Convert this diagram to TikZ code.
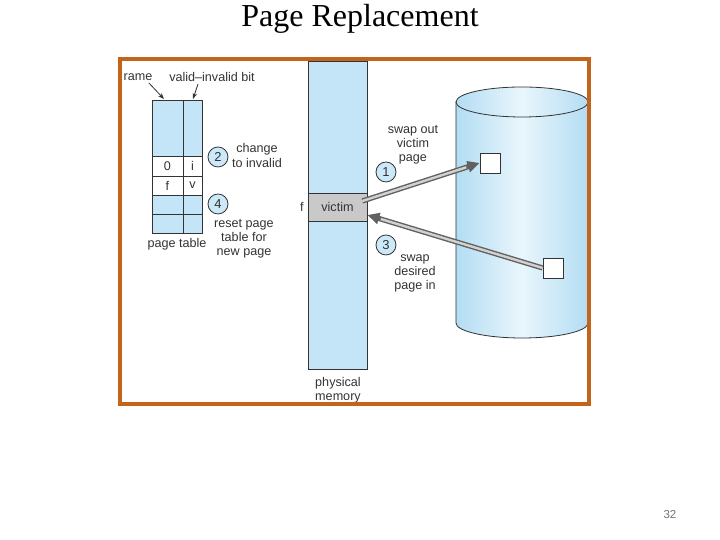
\documentclass[tikz,border=0pt]{standalone}
\usepackage{fontspec}
\setmainfont{Liberation Serif}
\newfontfamily\labelfont{Liberation Sans}
\usepackage{xcolor}
\usetikzlibrary{arrows.meta}
\definecolor{framebrown}{HTML}{C2651A}
\definecolor{membluefill}{HTML}{C3E5F7}
\definecolor{circblue}{HTML}{CBE9F8}
\definecolor{diskblue}{HTML}{B3DDF3}
\definecolor{disklight}{HTML}{E9F6FC}
\definecolor{inkgray}{HTML}{333333}
\definecolor{victimgray}{HTML}{C9C9C9}

\begin{document}
\begin{tikzpicture}[x=0.5pt, y=0.5pt,
    lbl/.style={font=\labelfont\fontsize{6.3}{7.1}\selectfont, text=inkgray, align=center, inner sep=0pt},
    stepnum/.style={circle, draw=inkgray, fill=circblue, minimum size=10pt, inner sep=0pt,
      font=\labelfont\fontsize{6.5}{7}\selectfont, text=inkgray},
    diskpage/.style={draw=inkgray, fill=white, minimum size=10pt, inner sep=0pt},
    swapline/.style={line width=2.6pt, draw=black!62, -{Triangle[length=6pt,width=5.5pt]}},
    swapcore/.style={line width=1.2pt, draw=black!18}]
  \useasboundingbox (0,0) rectangle (720,540);

  % title and slide number
  \node[font=\fontsize{16}{18}\selectfont] (title) at (360,521) {Page Replacement};
  \node[font=\labelfont\fontsize{5.8}{6}\selectfont, text=black!55] (slideno) at (670,25) {32};

  % page table
  \draw[inkgray, fill=membluefill] (152,307) rectangle (202,440);
  \draw[inkgray, fill=white] (152,345) rectangle (202,384);
  \draw[inkgray] (152,364) -- (202,364);
  \draw[inkgray] (152,326) -- (202,326);
  \draw[inkgray] (183,307) -- (183,440);
  \node[lbl] (fr0) at (167.5,374) {0};
  \node[lbl] (vb0) at (192.5,374) {i};
  \node[lbl] (fr1) at (167.5,354.5) {f};
  \node[lbl] (vb1) at (192.5,354.5) {v};
  \node[lbl] (ptab) at (177,296) {page table};
  \node[lbl] (framelbl) at (138,463) {rame};
  \node[lbl] (bitlbl) at (212,463) {valid–invalid bit};
  \coordinate (framecol) at (164,441);
  \coordinate (bitcol) at (193,441);
  \draw[inkgray, -{Stealth[length=3pt]}] ([xshift=-2pt,yshift=-1pt]framelbl.south east) -- (framecol);
  \draw[inkgray, -{Stealth[length=3pt]}] ([xshift=-7pt,yshift=-1pt]bitlbl.south) -- (bitcol);

  \node[stepnum] (s2) at (218,383) {2};
  \node[lbl] (chg) at (257,384.5) {change\\to invalid};
  \node[stepnum] (s4) at (218,336) {4};
  \node[lbl] (rst) at (244,301) {reset page\\table for\\new page};

  % physical memory
  \draw[inkgray, fill=membluefill] (308,171) rectangle (367,479);
  \node[draw=inkgray, fill=victimgray, minimum width=29.5pt, minimum height=14pt,
    inner sep=0pt, font=\labelfont\fontsize{6.3}{7}\selectfont, text=inkgray]
    (victim) at (337.5,333) {victim};
  \node[lbl] (fmark) at (302,333) {f};
  \node[lbl] (physmem) at (338,150) {physical\\memory};

  % backing store
  \shade[left color=diskblue, right color=diskblue, middle color=disklight, draw=inkgray]
    (456,438) -- (456,217) arc[start angle=180, end angle=360, x radius=66, y radius=15]
    -- (588,438) -- cycle;
  \shade[left color=diskblue, right color=diskblue, middle color=disklight, draw=inkgray]
    (522,438) ellipse[x radius=66, y radius=15];
  \node[diskpage] (out) at (490,377) {};
  \node[diskpage] (in) at (553,272) {};

  % swapping
  \coordinate (vout) at ([xshift=-2.5pt,yshift=3pt]victim.east);
  \coordinate (vin) at ([yshift=-4pt]victim.east);
  \draw[swapline] (vout) -- (out.west);
  \draw[swapcore, shorten >=7pt] (vout) -- (out.west);
  \draw[swapline] (in.west) -- (vin);
  \draw[swapcore, shorten >=7pt] (in.west) -- (vin);
  \node[stepnum] (s1) at (386,368) {1};
  \node[lbl] (outlbl) at (413,395) {swap out\\victim\\page};
  \node[stepnum] (s3) at (386,295) {3};
  \node[lbl] (inlbl) at (415,266.5) {swap\\desired\\page in};

  % frame
  \draw[framebrown, line width=1.6pt] (120,136) rectangle (589,481);
\end{tikzpicture}
\end{document}
